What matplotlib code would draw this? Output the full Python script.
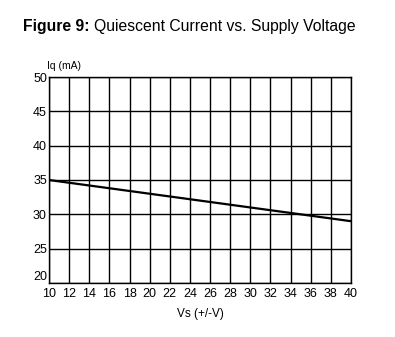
import numpy as np
from matplotlib import pyplot as plt

plt.rcParams["font.family"] = ["Liberation Sans", "DejaVu Sans"]

# quiescent current vs supply voltage
vs = [10, 40]
iq = [35.0, 29.0]

x_ticks = list(range(10, 41, 2))
y_ticks = list(range(20, 51, 5))

fig = plt.figure(figsize=(3.95, 3.37), dpi=100)
ax = fig.add_axes([49 / 395, 1 - 283 / 337, 302 / 395, 206 / 337])

ax.plot(vs, iq, color="black", lw=1.6, solid_capstyle="butt")

ax.set_xlim(10, 40)
ax.set_ylim(20, 50)
ax.set_xticks(x_ticks)
ax.set_yticks(y_ticks)
ax.grid(True, color="black", lw=1.0)
ax.tick_params(length=0, labelsize=9)
ax.tick_params(axis="x", pad=3.5)
ax.tick_params(axis="y", pad=1.5)
for s in ax.spines.values():
    s.set_linewidth(1.0)

# the lowest y label sits above the corner
ylabels = ax.get_yticklabels()
ylabels[0].set_verticalalignment("bottom")

ax.set_xlabel("Vs (+/-V)", fontsize=8.5, labelpad=6)
fig.text(47 / 395, 1 - 66 / 337, "Iq (mA)", fontsize=7.5, va="center", ha="left")

t1 = fig.text(23 / 395, 1 - 27 / 337, "Figure 9:", fontsize=11.3, weight="bold",
              va="center", ha="left")
fig.canvas.draw()
bb = t1.get_window_extent()
x2 = (bb.x1 + 4) / fig.bbox.width
fig.text(x2, 1 - 27 / 337, "Quiescent Current vs. Supply Voltage",
         fontsize=11.3, va="center", ha="left")

fig.savefig("out.png", dpi=100)
